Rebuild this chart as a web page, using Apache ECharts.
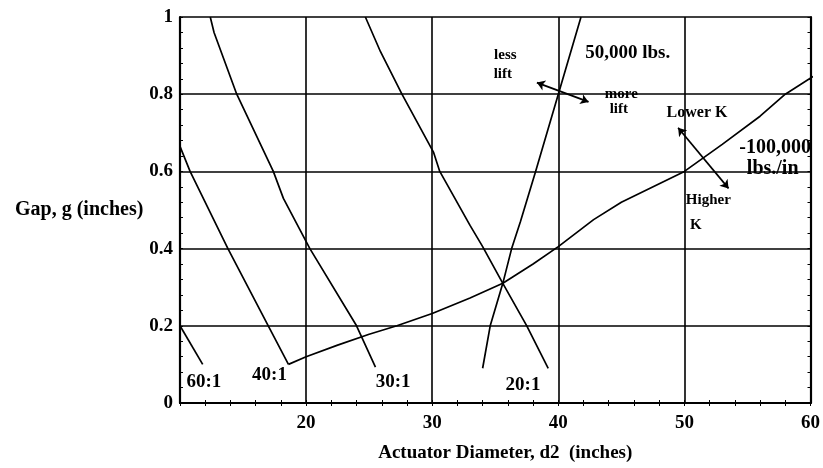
<!DOCTYPE html>
<html>
<head>
<meta charset="utf-8">
<script src="https://cdn.jsdelivr.net/npm/echarts@6/dist/echarts.min.js"></script>
<style>
html,body{margin:0;padding:0;background:#fff;}
#chart{width:823px;height:468px;}
</style>
</head>
<body>
<div id="chart"></div>
<script>
// ---- Data ----
const xTickValues = [20, 30, 40, 50, 60];
const yTickValues = [0, 0.2, 0.4, 0.6, 0.8, 1];

const ratio60 = [[10, 0.2], [11.8, 0.1]];
const ratio40 = [[10, 0.665], [10.8, 0.6], [13.8, 0.4], [17.0, 0.2], [18.6, 0.1]];
const ratio30 = [[12.4, 1.0], [12.7, 0.96], [14.5, 0.8], [17.4, 0.6], [18.2, 0.53], [20.3, 0.4], [24.0, 0.2], [25.5, 0.093]];
const ratio20 = [[24.7, 1.0], [25.9, 0.91], [27.6, 0.8], [30.1, 0.65], [30.6, 0.6], [33.0, 0.46], [34.0, 0.405], [35.6, 0.31], [37.5, 0.2], [39.2, 0.09]];
const lift50000 = [[34.0, 0.09], [34.6, 0.2], [35.6, 0.31], [36.3, 0.4], [37.0, 0.47], [38.2, 0.6], [40.0, 0.8], [41.8, 1.0]];
const stiff100000 = [[18.6, 0.1], [20, 0.12], [22.5, 0.15], [25, 0.178], [27.2, 0.2], [30, 0.232], [33, 0.272], [35.6, 0.31], [38, 0.36], [40, 0.405], [42.8, 0.475], [45, 0.52], [50, 0.6], [53, 0.67], [56, 0.743], [58, 0.8], [60.2, 0.846]];

const arrowLift = [[38.3, 0.83], [42.4, 0.78]];
const arrowK = [[49.5, 0.713], [53.5, 0.556]];

// annotation texts: [x, y, text, fontSize]
const notes = [
  [11.9, 0.054, '60:1', 19],
  [17.1, 0.072, '40:1', 19],
  [26.9, 0.054, '30:1', 19],
  [37.2, 0.047, '20:1', 19],
  [35.8, 0.900, 'less', 15],
  [35.6, 0.853, 'lift', 15],
  [45.5, 0.907, '50,000 lbs.', 19],
  [45.0, 0.800, 'more', 15],
  [44.8, 0.762, 'lift', 15],
  [51.0, 0.752, 'Lower K', 16],
  [57.2, 0.660, '-100,000', 20],
  [57.0, 0.607, 'lbs./in', 20],
  [51.9, 0.525, 'Higher', 15],
  [50.9, 0.460, 'K', 15]
];

const FONT = 'Liberation Serif';
const black = '#000';

const chart = echarts.init(document.getElementById('chart'));

function curve(data) {
  return {
    type: 'line', data: data, showSymbol: false, symbol: 'none',
    smooth: false, silent: true,
    lineStyle: { color: black, width: 1.7 }
  };
}

const option = {
  animation: false,
  backgroundColor: '#fff',
  grid: { left: 180, right: 11, top: 17, bottom: 64 },
  xAxis: [{
    type: 'value', min: 10, max: 60, interval: 10,
    name: 'Actuator Diameter, d2  (inches)',
    nameLocation: 'middle', nameGap: 41,
    nameTextStyle: { fontFamily: FONT, fontWeight: 'bold', fontSize: 19, color: black, padding: [0, 0, 0, 20] },
    axisLine: { lineStyle: { color: black, width: 2.2 } },
    axisTick: { show: true, inside: true, length: 3, lineStyle: { color: black } },
    minorTick: { show: true, splitNumber: 5, length: 3, lineStyle: { color: black } },
    splitLine: { show: true, lineStyle: { color: black, width: 1.6 } },
    axisLabel: {
      margin: 11, fontFamily: FONT, fontWeight: 'bold', fontSize: 19, color: black,
      formatter: function (v) { return xTickValues.indexOf(v) >= 0 ? String(v) : ''; }
    }
  }, {
    type: 'value', min: 10, max: 60, interval: 10, position: 'top',
    axisLine: { lineStyle: { color: black, width: 2.2 } },
    axisTick: { show: true, inside: true, length: 3, lineStyle: { color: black } },
    minorTick: { show: true, splitNumber: 5, length: 3, lineStyle: { color: black } },
    splitLine: { show: false }, axisLabel: { show: false }
  }],
  yAxis: [{
    type: 'value', min: 0, max: 1, interval: 0.2,
    name: 'Gap, g (inches)',
    nameLocation: 'middle', nameRotate: 0, nameGap: 32,
    nameTextStyle: { fontFamily: FONT, fontWeight: 'bold', fontSize: 20, color: black },
    axisLine: { lineStyle: { color: black, width: 2.2 } },
    axisTick: { show: true, inside: true, length: 3, lineStyle: { color: black } },
    minorTick: { show: true, splitNumber: 5, length: 3, lineStyle: { color: black } },
    splitLine: { show: true, lineStyle: { color: black, width: 1.6 } },
    axisLabel: {
      margin: 7, fontFamily: FONT, fontWeight: 'bold', fontSize: 19, color: black,
      formatter: function (v) {
        const r = Math.round(v * 10) / 10;
        return yTickValues.indexOf(r) >= 0 ? String(r) : '';
      }
    }
  }, {
    type: 'value', min: 0, max: 1, interval: 0.2, position: 'right',
    axisLine: { lineStyle: { color: black, width: 2.2 } },
    axisTick: { show: true, inside: true, length: 3, lineStyle: { color: black } },
    minorTick: { show: true, splitNumber: 5, length: 3, lineStyle: { color: black } },
    splitLine: { show: false }, axisLabel: { show: false }
  }],
  series: [
    curve(ratio60),
    curve(ratio40),
    curve(ratio30),
    curve(ratio20),
    curve(lift50000),
    curve(stiff100000),
    {
      type: 'lines', coordinateSystem: 'cartesian2d', silent: true,
      symbol: ['arrow', 'arrow'], symbolSize: 8,
      lineStyle: { color: black, width: 1.7, opacity: 1 },
      data: [{ coords: arrowLift }, { coords: arrowK }]
    },
    {
      type: 'custom', silent: true, clip: false,
      data: notes,
      encode: { x: 0, y: 1 },
      renderItem: function (params, api) {
        const p = api.coord([api.value(0), api.value(1)]);
        const n = notes[params.dataIndex];
        return {
          type: 'text',
          x: p[0], y: p[1],
          style: {
            text: n[2], fill: black,
            font: 'bold ' + n[3] + 'px "' + FONT + '"',
            align: 'center', verticalAlign: 'middle'
          }
        };
      }
    }
  ]
};
chart.setOption(option);
</script>
</body>
</html>
